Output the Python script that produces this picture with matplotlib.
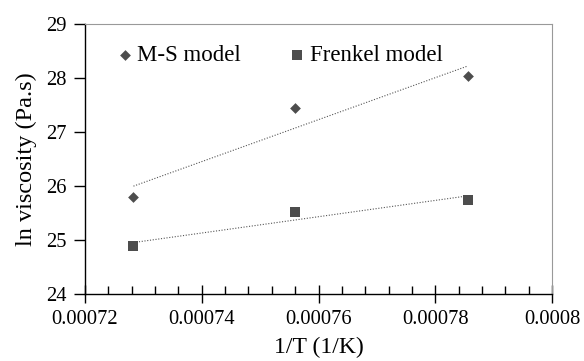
import matplotlib
matplotlib.use("Agg")
import matplotlib.pyplot as plt
import numpy as np
from matplotlib.ticker import MultipleLocator, FixedLocator

plt.rcParams['font.family'] = ['Liberation Serif', 'DejaVu Serif']

inv_T = [0.0007283, 0.0007559, 0.0007856]
ms_model = [25.80, 27.45, 28.04]
frenkel_model = [24.88, 25.51, 25.75]
x_ticks = [0.00072, 0.00074, 0.00076, 0.00078, 0.0008]
x_tick_labels = ["0.00072", "0.00074", "0.00076", "0.00078", "0.0008"]
y_ticks = [24, 25, 26, 27, 28, 29]

mark_color = "#4d4d4d"

fig = plt.figure(figsize=(5.84, 3.61), dpi=100)
ax = fig.add_axes([85/584, 1 - 294/361, (552-85)/584, (294-24)/361])

ax.scatter(inv_T, ms_model, marker="D", s=30, color=mark_color, label="M-S model", zorder=3, linewidths=0)
ax.scatter(inv_T, frenkel_model, marker="s", s=54, color=mark_color, label="Frenkel model", zorder=3, linewidths=0)

xs = np.array(inv_T)
for ys in (ms_model, frenkel_model):
    p = np.polyfit(xs, ys, 1)
    ax.plot(xs, np.polyval(p, xs), linestyle=(0, (1, 1.5)), color="#555555", linewidth=0.8, zorder=2)

ax.set_xlim(0.00072, 0.0008)
ax.set_ylim(24, 29)
ax.xaxis.set_major_locator(FixedLocator(x_ticks))
ax.set_xticks(x_ticks)
ax.set_xticklabels(x_tick_labels)
ax.xaxis.set_minor_locator(MultipleLocator(0.000004))
ax.set_yticks(y_ticks)

ax.tick_params(axis="x", which="major", direction="inout", length=13, width=1, labelsize=14.8, pad=5)
ax.tick_params(axis="x", which="minor", direction="in", length=6, width=1)
ax.tick_params(axis="y", which="major", direction="out", length=8, width=1, labelsize=14.8, pad=5)

for s in ("left", "bottom"):
    ax.spines[s].set_color("black")
    ax.spines[s].set_linewidth(1)
for s in ("top", "right"):
    ax.spines[s].set_color("#999999")
    ax.spines[s].set_linewidth(0.8)

ax.set_xlabel("1/T (1/K)", fontsize=17, labelpad=6)
ax.set_ylabel("ln viscosity (Pa.s)", fontsize=17.5, labelpad=7)

leg = ax.legend(loc="upper left", bbox_to_anchor=(0.043, 0.955), ncol=2, frameon=False,
                fontsize=16.5, handletextpad=0.1, columnspacing=2.0, markerscale=1.0,
                handlelength=0.9, borderaxespad=0)

fig.savefig("out.png", dpi=100)
